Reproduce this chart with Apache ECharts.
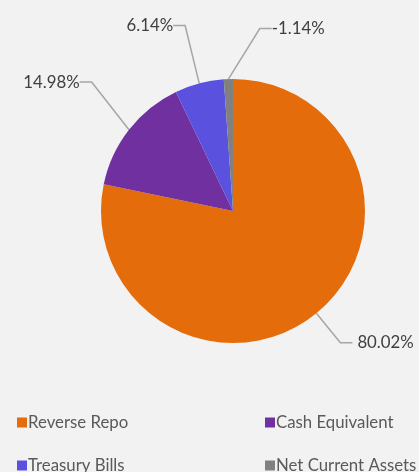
<!DOCTYPE html>
<html><head><meta charset="utf-8">
<script src="https://cdn.jsdelivr.net/npm/echarts@6/dist/echarts.min.js"></script>
<style>html,body{margin:0;padding:0;background:#f2f2f2;}#c{width:419px;height:472px;}</style>
</head><body><div id="c"></div>
<script>
var categories = ['Reverse Repo', 'Cash Equivalent', 'Treasury Bills', 'Net Current Assets'];
var values = [80.02, 14.98, 6.14, -1.14];
var colors = ['#E46C0A', '#7030A0', '#5A52DE', '#808080'];
var lineLen = [38, 44, 56, 50];
var lineLen2 = [12, 12, 12, 12];
// label nudges (pixels) applied through labelLayout
var labelShift = [[0, 0], [0, -12], [36, -14], [110, 8]];

var chart = echarts.init(document.getElementById('c'));
var data = categories.map(function (n, i) {
  return {
    name: n, value: Math.abs(values[i]), raw: values[i],
    itemStyle: { color: colors[i] },
    labelLine: { length: lineLen[i], length2: lineLen2[i] }
  };
});
var font = 'Lato, "Open Sans", sans-serif';
var legendCommon = {
  orient: 'vertical', itemGap: 26, itemWidth: 10, itemHeight: 10, icon: 'rect', height: 100,
  textStyle: { color: '#595959', fontSize: 16.8, fontFamily: font, padding: [0, 0, 0, -4] }
};
chart.setOption({
  backgroundColor: '#f2f2f2',
  animation: false,
  legend: [
    Object.assign({ left: 12, top: 409, data: [categories[0], categories[2]] }, legendCommon),
    Object.assign({ left: 260, top: 409, data: [categories[1], categories[3]] }, legendCommon)
  ],
  series: [{
    type: 'pie',
    center: [233, 211],
    radius: [0, 132],
    startAngle: 90,
    clockwise: true,
    data: data,
    label: {
      show: true, position: 'outside', color: '#404040', fontSize: 16.8, fontFamily: font,
      formatter: function (p) { return p.data.raw.toFixed(2) + '%'; },
      distanceToLabelLine: 0, padding: [0, 5], overflow: 'none', edgeDistance: 0
    },
    labelLine: { show: true, lineStyle: { color: '#A6A6A6', width: 1.5 } },
    labelLayout: function (p) {
      var s = labelShift[p.dataIndex];
      if (s[0] === 0 && s[1] === 0) return {};
      return { x: p.labelRect.x + s[0], y: p.labelRect.y + s[1], align: 'left' };
    },
    emphasis: { disabled: true }
  }]
});
</script></body></html>
